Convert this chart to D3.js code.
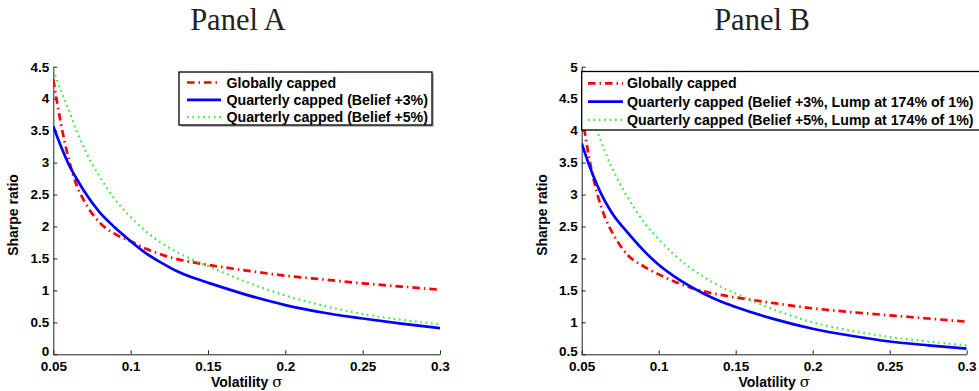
<!DOCTYPE html>
<html><head><meta charset="utf-8">
<script src="https://cdn.jsdelivr.net/npm/d3@7"></script>
<style>
body{margin:0;background:#fff;}
svg{display:block;}
.tick text{font-family:"Liberation Sans",Arial,sans-serif;font-weight:bold;font-size:13.5px;fill:#000;}
</style></head><body>
<svg id="chart" width="979" height="391"></svg>
<script>
// ---- Data ----
const sigma = [0.05,0.055,0.06,0.065,0.07,0.08,0.09,0.1,0.11,0.12,0.13,0.14,0.15,0.175,0.2,0.225,0.25,0.275,0.3];
// Panel A
const aGlobal   = [4.30,3.60,3.05,2.65,2.40,2.06,1.88,1.77,1.65,1.56,1.49,1.44,1.40,1.31,1.23,1.17,1.11,1.06,1.01];
const aQuart3   = [3.57,3.25,2.97,2.75,2.55,2.22,1.98,1.77,1.58,1.43,1.30,1.20,1.12,0.93,0.77,0.65,0.56,0.48,0.41];
const aQuart5   = [4.45,4.12,3.82,3.50,3.22,2.78,2.42,2.15,1.92,1.74,1.60,1.48,1.38,1.13,0.92,0.76,0.63,0.54,0.47];
// Panel B
const bGlobal   = [4.30,3.55,3.02,2.65,2.40,2.05,1.88,1.75,1.64,1.55,1.48,1.43,1.39,1.30,1.22,1.16,1.11,1.06,1.01];
const bQuart3   = [3.80,3.45,3.15,2.90,2.70,2.40,2.13,1.90,1.72,1.57,1.44,1.33,1.24,1.05,0.90,0.79,0.70,0.64,0.59];
const bQuart5   = [4.75,4.35,4.00,3.68,3.40,2.95,2.58,2.30,2.06,1.86,1.70,1.56,1.45,1.20,1.00,0.87,0.77,0.70,0.64];
const xTicks = [0.05,0.1,0.15,0.2,0.25,0.3];
const yTicksA = [0,0.5,1,1.5,2,2.5,3,3.5,4,4.5];
const yTicksB = [0.5,1,1.5,2,2.5,3,3.5,4,4.5,5];
const legendA = ["Globally capped","Quarterly capped (Belief +3%)","Quarterly capped (Belief +5%)"];
const legendB = ["Globally capped","Quarterly capped (Belief +3%, Lump at 174% of 1%)","Quarterly capped (Belief +5%, Lump at 174% of 1%)"];

const styles = [
  {color:"#ff0000", width:2.7, dash:"7.5,4,1.5,4"},
  {color:"#0000ff", width:2.7, dash:null},
  {color:"#33ee33", width:2.2, dash:"1.6,3.8"}
];

const svg = d3.select("#chart");

function panel(opts){
  const g = svg.append("g");
  const x = d3.scaleLinear().domain([0.05,0.3]).range([opts.x0, opts.x1]);
  const y = d3.scaleLinear().domain(opts.ydom).range([354.3, 66.7]);

  const clipId = "clip"+opts.id;
  svg.append("clipPath").attr("id",clipId).append("rect")
    .attr("x",opts.x0).attr("y",66.7).attr("width",opts.x1-opts.x0).attr("height",354.3-66.7);

  // axes
  const xa = g.append("g").attr("transform","translate(0,354.3)")
    .call(d3.axisBottom(x).tickValues(xTicks).tickSizeInner(-4).tickSizeOuter(0).tickPadding(8)
      .tickFormat(d=>String(+d.toFixed(2))));
  xa.select(".domain").attr("stroke","#222");
  xa.selectAll(".tick line").attr("stroke","#222");
  xa.selectAll(".tick text").attr("dy","0.68em");
  const ya = g.append("g").attr("transform",`translate(${opts.x0},0)`)
    .call(d3.axisLeft(y).tickValues(opts.yticks).tickSizeInner(-4).tickSizeOuter(0).tickPadding(4)
      .tickFormat(d=>String(d)));
  ya.select(".domain").attr("stroke","#222");
  ya.selectAll(".tick line").attr("stroke","#222");
  ya.selectAll(".tick text").attr("dy",(d,i)=> i===0 ? "0.12em" : "0.32em");

  // lines
  const line = d3.line().x((d,i)=>x(sigma[i])).y(d=>y(d)).curve(d3.curveMonotoneX);
  const lines = g.append("g").attr("clip-path",`url(#${clipId})`);
  opts.series.forEach((s,i)=>{
    lines.append("path").datum(s).attr("d",line).attr("fill","none")
      .attr("stroke",styles[i].color).attr("stroke-width",styles[i].width)
      .attr("stroke-dasharray",styles[i].dash);
  });

  // title
  g.append("text").attr("x",opts.titleX).attr("y",30).attr("text-anchor","middle")
    .attr("font-family","'Liberation Serif','DejaVu Serif',serif").attr("font-size",30.5)
    .attr("fill","#222").text(opts.title);

  // axis labels
  const xl = g.append("text").attr("x",(opts.x0+opts.x1)/2).attr("y",387).attr("text-anchor","middle")
    .attr("font-family","'Liberation Sans',Arial,sans-serif").attr("font-size",14).attr("font-weight","bold");
  xl.append("tspan").text("Volatility ");
  xl.append("tspan").attr("font-weight","normal").attr("font-family","'DejaVu Serif',serif").attr("font-size",15).text("σ");
  g.append("text").attr("transform",`translate(${opts.ylabX},${215}) rotate(-90)`).attr("text-anchor","middle")
    .attr("font-family","'Liberation Sans',Arial,sans-serif").attr("font-size",14).attr("font-weight","bold")
    .text("Sharpe ratio");

  // legend
  const L = opts.legend;
  const lg = g.append("g");
  if(L.shadow){
    lg.append("rect").attr("x",L.x+2).attr("y",L.y+2).attr("width",L.w).attr("height",L.h).attr("fill","#bbb");
  }
  lg.append("rect").attr("x",L.x).attr("y",L.y).attr("width",L.w).attr("height",L.h)
    .attr("fill","#fff").attr("stroke","#000").attr("stroke-width",1.3);
  opts.labels.forEach((t,i)=>{
    const cy = L.y + L.r0 + i*L.dy;
    lg.append("line").attr("x1",L.lx0).attr("x2",L.lx1).attr("y1",cy).attr("y2",cy)
      .attr("stroke",styles[i].color).attr("stroke-width",styles[i].width)
      .attr("stroke-dasharray",styles[i].dash);
    lg.append("text").attr("x",L.tx).attr("y",cy+5)
      .attr("font-family","'Liberation Sans',Arial,sans-serif").attr("font-size",14.2).attr("font-weight","bold")
      .text(t);
  });
}

panel({id:"A", x0:53.3, x1:440, ydom:[0,4.5], yticks:yTicksA, series:[aGlobal,aQuart3,aQuart5],
  title:"Panel A", titleX:238, ylabX:18, labels:legendA,
  legend:{x:179,y:72,w:253,h:53,r0:10.5,dy:17.3,lx0:187,lx1:221,tx:226.5,shadow:true}});
panel({id:"B", x0:581.7, x1:966.7, ydom:[0.5,5], yticks:yTicksB, series:[bGlobal,bQuart3,bQuart5],
  title:"Panel B", titleX:762, ylabX:547, labels:legendB,
  legend:{x:581.7,y:71.5,w:400,h:58.5,r0:11.8,dy:18.3,lx0:588,lx1:623,tx:627,shadow:false}});
</script>
</body></html>
